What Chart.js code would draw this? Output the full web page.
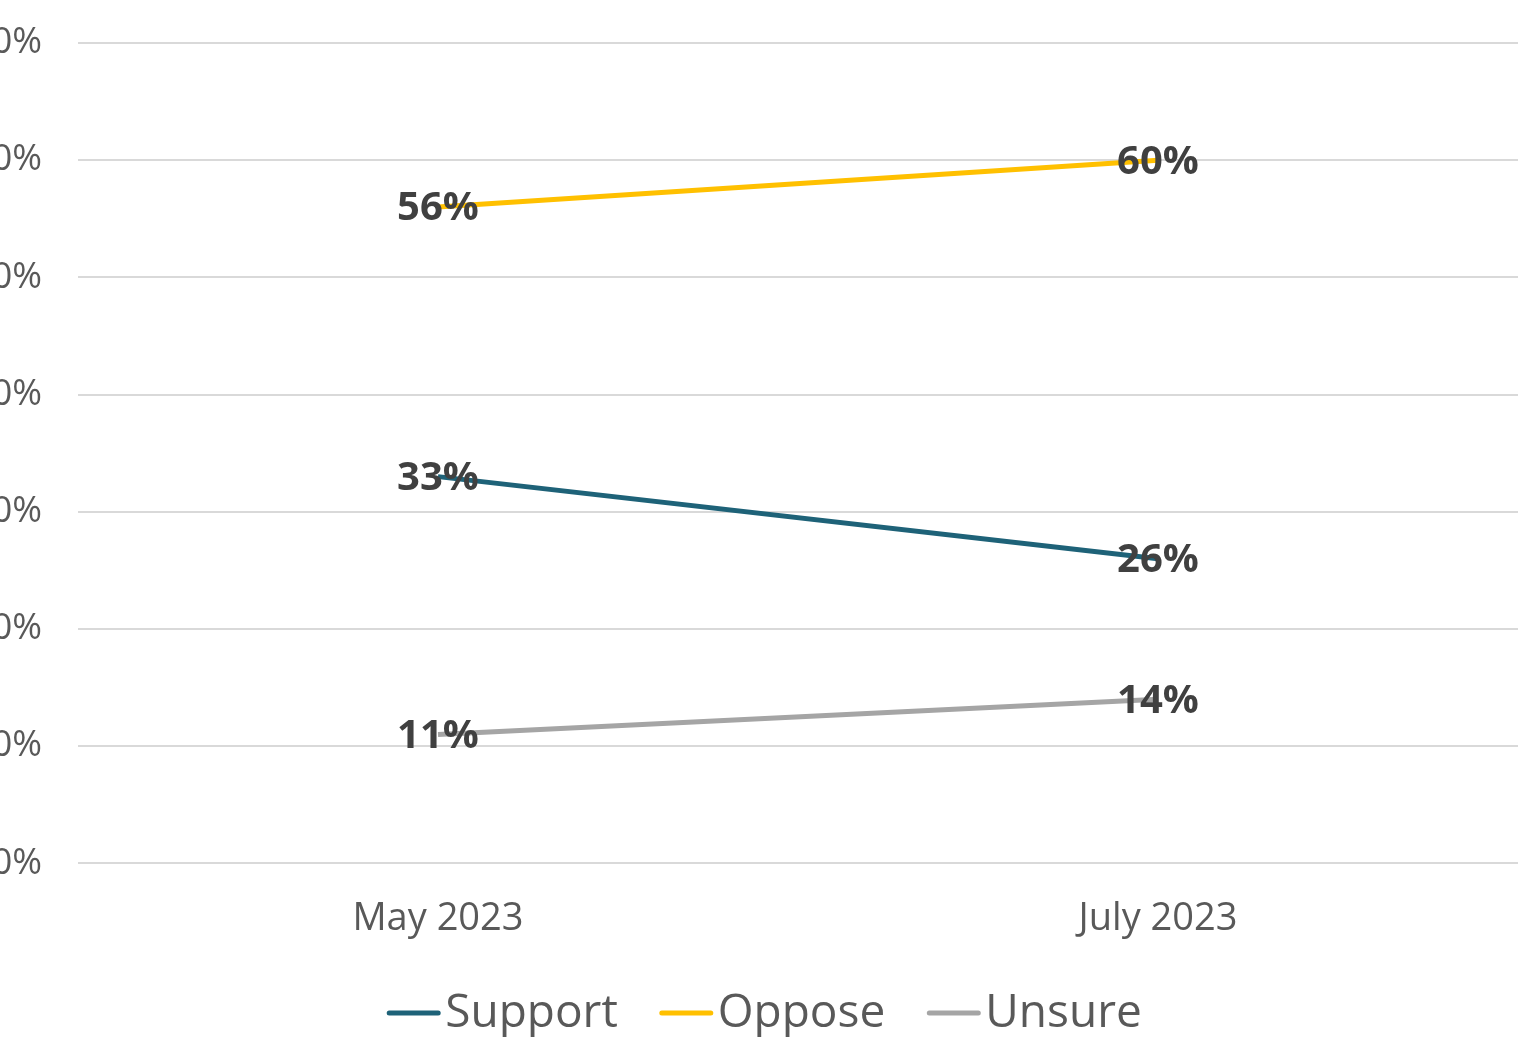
<!DOCTYPE html>
<html>
<head>
<meta charset="utf-8">
<script src="https://cdn.jsdelivr.net/npm/chart.js@4.4.1/dist/chart.umd.min.js"></script>
<style>
  html, body { margin: 0; padding: 0; background: #fff; overflow: hidden; }
  canvas { display: block; }
</style>
</head>
<body>
<canvas id="pollChart" width="1524" height="1037"></canvas>
<script>
// survey waves and results (percent)
const waves = ["May 2023", "July 2023"];
const support = [33, 26];
const oppose = [56, 60];
const unsure = [11, 14];

const seriesNames = ["Support", "Oppose", "Unsure"];
const seriesColors = ["#1E6278", "#FFC000", "#A5A5A5"];

const FONT = "'Open Sans', 'Noto Sans', sans-serif";

// writes the value on each point, bold dark grey
const valueLabels = {
  id: "valueLabels",
  afterDatasetsDraw(chart) {
    const ctx = chart.ctx;
    ctx.save();
    ctx.font = "bold 40px " + FONT;
    ctx.fillStyle = "#404040";
    ctx.textAlign = "center";
    ctx.textBaseline = "middle";
    chart.data.datasets.forEach((ds, i) => {
      chart.getDatasetMeta(i).data.forEach((pt, j) => {
        ctx.fillText(ds.data[j] + "%", pt.x, pt.y + 2);
      });
    });
    ctx.restore();
  }
};

// legend with short line samples sitting right next to the text
const bottomLegend = {
  id: "bottomLegend",
  afterDraw(chart) {
    const ctx = chart.ctx;
    const y = 1013;
    const sample = 55, gap = 4, spacing = 41;
    ctx.save();
    ctx.font = "46px " + FONT;
    ctx.textBaseline = "middle";
    const items = chart.data.datasets.map(ds => ({
      text: ds.label, color: ds.borderColor, w: ctx.measureText(ds.label).width
    }));
    let total = 0;
    items.forEach((it, i) => { total += sample + gap + it.w + (i ? spacing : 0); });
    let x = (chart.width - total) / 2 + 2;
    items.forEach(it => {
      ctx.strokeStyle = it.color;
      ctx.lineWidth = 5;
      ctx.lineCap = "round";
      ctx.beginPath();
      ctx.moveTo(x + 3, y);
      ctx.lineTo(x + sample - 3, y);
      ctx.stroke();
      ctx.fillStyle = "#595959";
      ctx.fillText(it.text, x + sample + gap, y + 1);
      x += sample + gap + it.w + spacing;
    });
    ctx.restore();
  }
};

const values = [support, oppose, unsure];

new Chart(document.getElementById("pollChart"), {
  type: "line",
  data: {
    labels: waves,
    datasets: seriesNames.map((name, i) => ({
      label: name,
      data: values[i],
      borderColor: seriesColors[i],
      backgroundColor: seriesColors[i],
      borderWidth: 5,
      pointRadius: 0,
      tension: 0,
      fill: false
    }))
  },
  options: {
    responsive: false,
    animation: false,
    layout: { padding: { top: 43, right: 6, bottom: 62, left: 0 } },
    plugins: {
      legend: { display: false },
      tooltip: { enabled: false }
    },
    scales: {
      x: {
        offset: true,
        grid: { display: false, drawTicks: false },
        border: { display: false },
        ticks: {
          color: "#595959",
          padding: 33,
          font: { family: FONT, size: 38 }
        }
      },
      y: {
        min: 0,
        max: 70,
        afterFit(scale) {
          scale.width = 78;
          scale.paddingTop = 0;
          scale.paddingBottom = 0;
        },
        grid: { color: "#D9D9D9", lineWidth: 2, drawTicks: false },
        border: { display: false },
        ticks: {
          stepSize: 10,
          color: "#595959",
          padding: 36,
          font: { family: FONT, size: 36 },
          callback: v => v + "%"
        }
      }
    }
  },
  plugins: [valueLabels, bottomLegend]
});
</script>
</body>
</html>
